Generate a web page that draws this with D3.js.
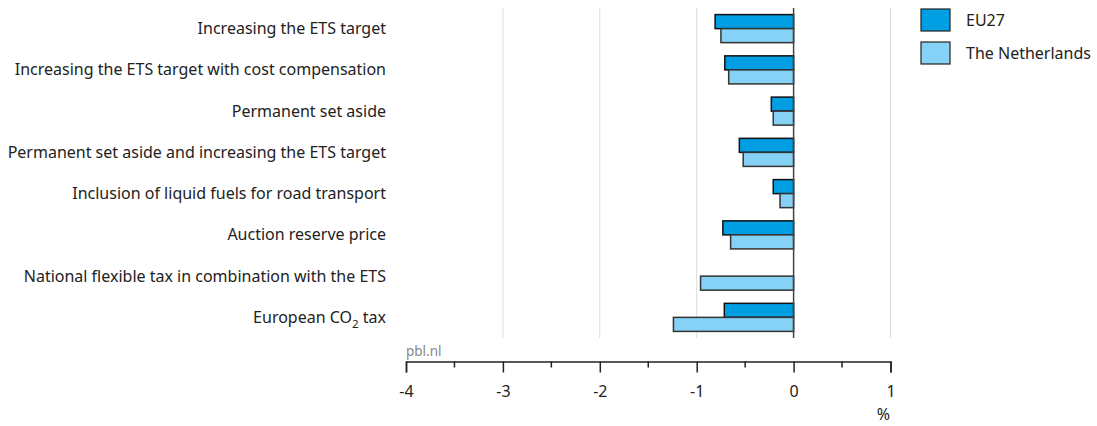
<!DOCTYPE html>
<html><head><meta charset="utf-8">
<script src="https://cdn.jsdelivr.net/npm/d3@7"></script>
<style>body{margin:0;background:#fff}svg{display:block;font-family:"Noto Sans",sans-serif}</style>
</head><body><svg id="c" width="1097" height="426"></svg>
<script>
const categories = [
  "Increasing the ETS target",
  "Increasing the ETS target with cost compensation",
  "Permanent set aside",
  "Permanent set aside and increasing the ETS target",
  "Inclusion of liquid fuels for road transport",
  "Auction reserve price",
  "National flexible tax in combination with the ETS",
  "European CO2 tax"
];
const seriesNames = ["EU27", "The Netherlands"];
const eu27 = [-0.81, -0.71, -0.23, -0.56, -0.21, -0.73, 0.0, -0.715];
const netherlands = [-0.75, -0.67, -0.21, -0.52, -0.14, -0.65, -0.96, -1.24];
const xTicks = [-4, -3, -2, -1, 0, 1];
const colors = ["#009fe3", "#86d1f6"];

const svg = d3.select("#c");
const x = d3.scaleLinear().domain([-4, 1]).range([406, 890.5]);
const y = d3.scaleBand().domain(categories).range([8, 338]).paddingInner(0.32).paddingOuter(0.16);
const sub = d3.scaleBand().domain(seriesNames).range([0, y.bandwidth()]);
const data = [eu27, netherlands];

// gridlines
svg.append("g").selectAll("line").data(xTicks.filter(d => d !== 0 && d !== -4)).join("line")
  .attr("x1", d => x(d)).attr("x2", d => x(d)).attr("y1", 8).attr("y2", 338)
  .attr("stroke", "#dcdcdc").attr("stroke-width", 1);

// bars
seriesNames.forEach((s, si) => {
  svg.append("g").selectAll("rect").data(categories).join("rect")
    .attr("x", (c, i) => x(Math.min(0, data[si][i])))
    .attr("width", (c, i) => Math.abs(x(data[si][i]) - x(0)))
    .attr("y", c => y(c) + sub(s))
    .attr("height", sub.bandwidth())
    .attr("fill", colors[si])
    .attr("stroke", si === 0 ? "#111" : "#333")
    .attr("stroke-width", 1.5);
});

// zero line
svg.append("line").attr("x1", x(0)).attr("x2", x(0)).attr("y1", 8).attr("y2", 338)
  .attr("stroke", "#444").attr("stroke-width", 1.5);

// category labels
const lab = svg.append("g").selectAll("text").data(categories).join("text")
  .attr("x", 386).attr("y", c => y(c) + y.bandwidth() / 2)
  .attr("dy", "0.35em").attr("text-anchor", "end")
  .attr("font-size", 16).attr("fill", "#222");
lab.each(function(c) {
  const t = d3.select(this);
  if (c.includes("CO2")) {
    t.append("tspan").text("European CO");
    t.append("tspan").text("2").attr("font-size", 11.5).attr("dy", 5);
    t.append("tspan").text(" tax").attr("dy", -5);
  } else t.text(c);
});

// x axis
const axisY = 361.5;
const ax = svg.append("g").attr("transform", `translate(0,${axisY})`)
  .call(d3.axisBottom(x).tickValues(xTicks).tickSize(11).tickFormat(d3.format("d")).tickPadding(13));
ax.select(".domain").attr("stroke", "#222").attr("stroke-width", 1.5);
ax.selectAll(".tick line").attr("stroke", "#222").attr("stroke-width", 1.5);
ax.selectAll(".tick text").attr("font-size", 16).attr("fill", "#222").attr("font-family", "Noto Sans, sans-serif")
  .text(d => d < 0 ? "-" + Math.abs(d) : d);
// minor ticks
svg.append("g").selectAll("line").data(d3.range(-3.5, 1, 1)).join("line")
  .attr("x1", d => x(d)).attr("x2", d => x(d)).attr("y1", axisY).attr("y2", axisY + 6)
  .attr("stroke", "#222").attr("stroke-width", 1.5);

svg.append("text").attr("x", 890).attr("y", 420).attr("text-anchor", "end")
  .attr("font-size", 16).attr("fill", "#222").text("%");
svg.append("text").attr("x", 406).attr("y", 356).attr("font-size", 13.5).attr("fill", "#888").text("pbl.nl");

// legend
const lg = svg.append("g").selectAll("g").data(seriesNames).join("g")
  .attr("transform", (d, i) => `translate(921,${9 + i * 33})`);
lg.append("rect").attr("width", 29).attr("height", 22)
  .attr("fill", (d, i) => colors[i]).attr("stroke", "#222").attr("stroke-width", 1.2);
lg.append("text").attr("x", 45).attr("y", 11).attr("dy", "0.35em")
  .attr("font-size", 16).attr("fill", "#222").text(d => d);
</script></body></html>
